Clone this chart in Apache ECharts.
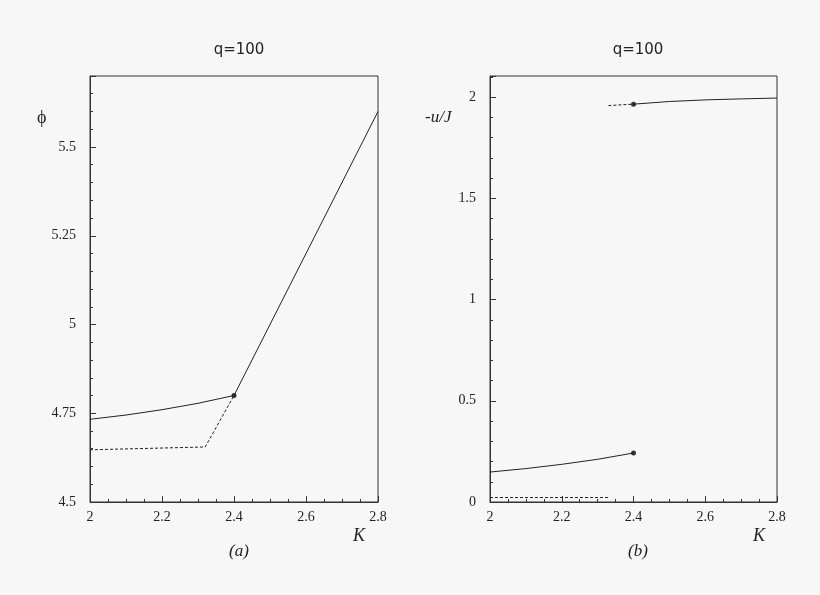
<!DOCTYPE html>
<html><head><meta charset="utf-8">
<script src="https://cdn.jsdelivr.net/npm/echarts@6/dist/echarts.min.js"></script>
<style>html,body{margin:0;background:#f7f7f7}#c{width:820px;height:595px}</style>
</head><body><div id="c"></div>
<script>
const phiSolid = [[2.0,4.733],[2.1,4.745],[2.2,4.760],[2.3,4.778],[2.4,4.800],[2.6,5.20],[2.8,5.60]];
const phiDashed = [[2.0,4.647],[2.32,4.655],[2.4,4.800]];
const phiPoint = [[2.4,4.800]];
const uLowSolid = [[2.0,0.148],[2.1,0.165],[2.2,0.186],[2.3,0.211],[2.4,0.242]];
const uLowDashed = [[2.0,0.022],[2.33,0.022]];
const uHighDashed = [[2.33,1.958],[2.4,1.965]];
const uHighSolid = [[2.4,1.965],[2.5,1.978],[2.6,1.986],[2.7,1.991],[2.8,1.995]];
const uPoints = [[2.4,0.242],[2.4,1.965]];
const xTicks = [2,2.2,2.4,2.6,2.8];
const font = 'Liberation Serif';
function xAx(i){return {type:'value',gridIndex:i,min:2,max:2.8,interval:0.2,
  axisLine:{onZero:false,lineStyle:{color:'#333'}},axisTick:{inside:true,length:6,lineStyle:{color:'#333'}},
  minorTick:{show:true,splitNumber:4,length:3,lineStyle:{color:'#333'}},splitLine:{show:false},
  axisLabel:{color:'#222',fontFamily:font,fontSize:14,formatter:v=>String(+v.toFixed(1))}};}
function yAx(i,min,max,iv){return {type:'value',gridIndex:i,min:min,max:max,interval:iv,
  axisLine:{lineStyle:{color:'#333'}},axisTick:{inside:true,length:6,lineStyle:{color:'#333'}},
  minorTick:{show:true,splitNumber:5,length:3,lineStyle:{color:'#333'}},splitLine:{show:false},
  axisLabel:{color:'#222',fontFamily:font,fontSize:14,margin:14,showMaxLabel:false,formatter:v=>String(+v.toFixed(2))}};}
function ln(d,xi,dash){return {type:'line',xAxisIndex:xi,yAxisIndex:xi,data:d,showSymbol:false,smooth:false,
  lineStyle:{color:'#222',width:1,type:dash?[3,2]:'solid'}};}
function pt(d,xi){return {type:'scatter',xAxisIndex:xi,yAxisIndex:xi,data:d,symbolSize:5,itemStyle:{color:'#000'}};}
const chart = echarts.init(document.getElementById('c'));
chart.setOption({
  backgroundColor:'#f7f7f7',animation:false,
  grid:[{left:90,top:76,width:288,height:426,show:true,borderColor:'#333',borderWidth:1},
        {left:490,top:76,width:287,height:426,show:true,borderColor:'#333',borderWidth:1}],
  xAxis:[xAx(0),xAx(1)],
  yAxis:[yAx(0,4.5,5.7,0.25),yAx(1,0,2.104,0.5)],
  title:[
    {text:'q=100',left:234,top:38,textAlign:'center',textStyle:{fontFamily:'DejaVu Sans',fontSize:15,fontWeight:'normal',color:'#222'}},
    {text:'q=100',left:633,top:38,textAlign:'center',textStyle:{fontFamily:'DejaVu Sans',fontSize:15,fontWeight:'normal',color:'#222'}},
    {text:'ϕ',left:32,top:104,textStyle:{fontFamily:font,fontSize:18,fontWeight:'normal',color:'#222'}},
    {text:'-u/J',left:420,top:104,textStyle:{fontFamily:font,fontSize:17,fontStyle:'italic',fontWeight:'normal',color:'#222'}},
    {text:'K',left:348,top:522,textStyle:{fontFamily:font,fontSize:18,fontStyle:'italic',fontWeight:'normal',color:'#222'}},
    {text:'K',left:748,top:522,textStyle:{fontFamily:font,fontSize:18,fontStyle:'italic',fontWeight:'normal',color:'#222'}},
    {text:'(a)',left:234,top:538,textAlign:'center',textStyle:{fontFamily:font,fontSize:17,fontStyle:'italic',fontWeight:'normal',color:'#222'}},
    {text:'(b)',left:633,top:538,textAlign:'center',textStyle:{fontFamily:font,fontSize:17,fontStyle:'italic',fontWeight:'normal',color:'#222'}}
  ],
  series:[ln(phiSolid,0,false),ln(phiDashed,0,true),pt(phiPoint,0),
    ln(uLowSolid,1,false),ln(uLowDashed,1,true),ln(uHighDashed,1,true),ln(uHighSolid,1,false),pt(uPoints,1)]
});
</script></body></html>
